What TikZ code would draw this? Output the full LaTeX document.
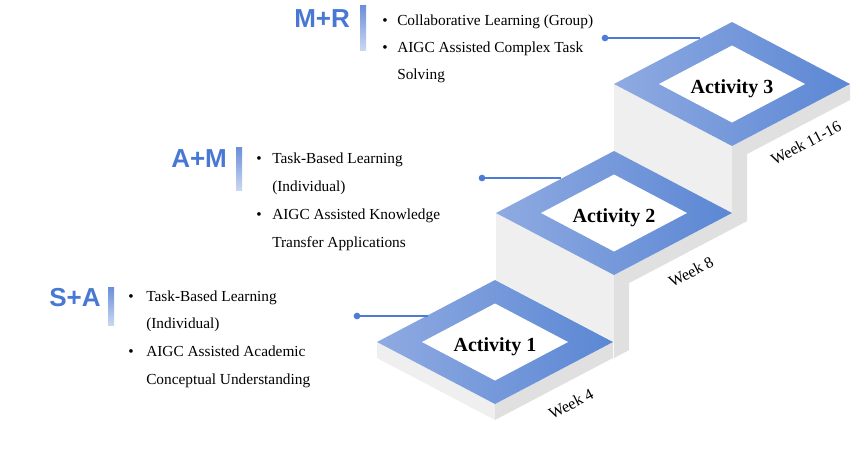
\documentclass[tikz,border=0pt]{standalone}
\usepackage{fontspec}
\setmainfont{Liberation Serif}
\newfontfamily\labfont{Liberation Sans}
\usetikzlibrary{calc}
\definecolor{blueL}{HTML}{8FAAE1}
\definecolor{blueR}{HTML}{5B87D4}
\definecolor{faceL}{HTML}{EFEFEF}
\definecolor{faceR}{HTML}{E0E0E0}
\definecolor{labblue}{HTML}{4878D3}
\definecolor{linkblue}{HTML}{4D7BD5}
\definecolor{barT}{HTML}{6A8ED8}
\definecolor{barB}{HTML}{CAD7F2}
\begin{document}
\begin{tikzpicture}[x=0.75pt,y=-0.75pt,
  txt/.style={font=\fontsize{11.5}{14}\selectfont, inner sep=0pt, anchor=base west},
  bul/.style={font=\fontsize{11.5}{14}\selectfont, inner sep=0pt, anchor=base},
  lab/.style={font=\labfont\bfseries\fontsize{19.5}{22}\selectfont, text=labblue, inner sep=0pt, anchor=base west},
  acttext/.style={font=\bfseries\fontsize{15}{18}\selectfont, inner sep=0pt, anchor=base},
  weektext/.style={font=\fontsize{12}{14}\selectfont, inner sep=0pt, rotate=27.7},
  dotnode/.style={circle, fill=linkblue, inner sep=0pt, minimum size=5pt},
  link/.style={draw=linkblue, line width=0.9pt},
  bar/.style={top color=barT, bottom color=barB, draw=none}]
\useasboundingbox (0,0) rectangle (864,455);

% steps, back to front
\foreach \k/\cx/\cy/\h/\va/\vb in {3/732/84/67/75.1/83, 2/614/213/67/75.1/83, 1/495/342/16/8.1/16}{
  % left face
  \fill[faceL] (\cx-118,\cy) -- (\cx,\cy+62) -- (\cx,\cy+62+\h) -- (\cx-118,\cy+\h) -- cycle;
  % right face
  \fill[faceR] (\cx,\cy+62) -- (\cx+118,\cy) -- (\cx+118,\cy+16) -- (\cx+15,\cy+62+8.1)
     -- (\cx+15,\cy+62+\va) -- (\cx,\cy+62+\vb) -- cycle;
  % top
  \shade[left color=blueL, right color=blueR] (\cx-118,\cy) -- (\cx,\cy-62) -- (\cx+118,\cy) -- (\cx,\cy+62) -- cycle;
  \fill[white] (\cx-73,\cy) -- (\cx,\cy-38.5) -- (\cx+73,\cy) -- (\cx,\cy+38.5) -- cycle;
  \node[acttext] (act\k) at (\cx,\cy+9.5) {Activity \k};
}

\node[weektext] (w1) at (571,404) {Week 4};
\node[weektext] (w2) at (691,272) {Week 8};
\node[weektext] (w3) at (806,143) {Week 11-16};

% labels and bars
\node[lab] (l3) at (294,27) {M+R};
\shade[bar] (360,5) rectangle (366,50);
\node[lab] (l2) at (171,167) {A+M};
\shade[bar] (236,147) rectangle (242,190);
\node[lab] (l1) at (49,306) {S+A};
\shade[bar] (108,287) rectangle (114,325);

% text blocks
\node[bul] (b3a) at (385,25) {•};
\node[txt] (t3a) at (397,25) {Collaborative Learning (Group)};
\node[bul] (b3b) at (385,52) {•};
\node[txt] (t3b) at (397,52) {AIGC Assisted Complex Task};
\node[txt] (t3c) at (397,79) {Solving};

\node[bul] (b2a) at (259,163) {•};
\node[txt] (t2a) at (272,163) {Task-Based Learning};
\node[txt] (t2b) at (272,191) {(Individual)};
\node[bul] (b2c) at (259,219) {•};
\node[txt] (t2c) at (272,219) {AIGC Assisted Knowledge};
\node[txt] (t2d) at (272,247) {Transfer Applications};

\node[bul] (b1a) at (131,301) {•};
\node[txt] (t1a) at (146,301) {Task-Based Learning};
\node[txt] (t1b) at (146,328.5) {(Individual)};
\node[bul] (b1c) at (131,356) {•};
\node[txt] (t1c) at (146,356) {AIGC Assisted Academic};
\node[txt] (t1d) at (146,384) {Conceptual Understanding};

% connectors
\coordinate (e3) at (700,38);
\coordinate (e2) at (561,178);
\coordinate (e1) at (428,316);
\node[dotnode] (d3) at (605,38) {};
\node[dotnode] (d2) at (482,178) {};
\node[dotnode] (d1) at (357,316) {};
\draw[link] (d3.center) -- (e3);
\draw[link] (d2.center) -- (e2);
\draw[link] (d1.center) -- (e1);
\end{tikzpicture}
\end{document}
